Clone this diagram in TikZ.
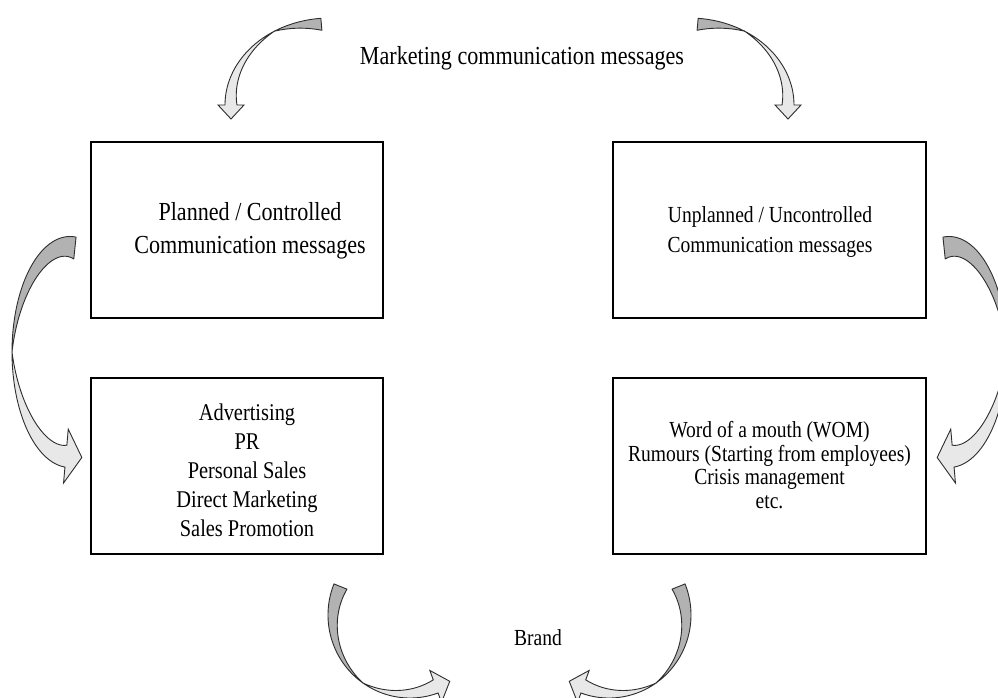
\documentclass[tikz,border=0pt]{standalone}
\usepackage{fontspec}
\setmainfont{Liberation Serif}[FakeStretch=0.85]
\usetikzlibrary{calc}
\definecolor{arrdarkc}{RGB}{178,178,178}
\definecolor{arrlightc}{RGB}{232,232,232}
\definecolor{edgec}{RGB}{45,45,45}
\newcommand\arrHX{16}
\newcommand\arrHL{16}
% #1 cx #2 cy #3 rx #4 ry #5 a0 (tail) #6 am (twist) #7 a1 (head) #8 width #9 turn angle
\newcommand\curvarr[9]{%
  \coordinate (Po) at ({#1+#3*cos(#7)},{#2+#4*sin(#7)});
  \coordinate (Pi) at ({#1+(#3-#8)*cos(#7)},{#2+(#4-#8)*sin(#7)});
  \coordinate (Pc) at ($(Po)!0.5!(Pi)$);
  \coordinate (Bo) at ($(Po)!-\arrHX pt!(Pi)$);
  \coordinate (Bi) at ($(Pi)!-\arrHX pt!(Po)$);
  \coordinate (Tp) at ($(Pc)!\arrHL pt!#9:(Po)$);
  \filldraw[arrdark] plot[domain=#5:#6,samples=60] ({#1+#3*cos(\x)},{#2+#4*sin(\x)})
     -- plot[domain=#6:#5,samples=60] ({#1+(#3-#8*(\x-(#6))/((#5)-(#6)))*cos(\x)},{#2+(#4-#8*(\x-(#6))/((#5)-(#6)))*sin(\x)}) -- cycle;
  \filldraw[arrlight] plot[domain=#6:#7,samples=60] ({#1+#3*cos(\x)},{#2+#4*sin(\x)})
     -- (Bo) -- (Tp) -- (Bi)
     -- plot[domain=#7:#6,samples=60] ({#1+(#3-#8*(\x-(#6))/((#7)-(#6)))*cos(\x)},{#2+(#4-#8*(\x-(#6))/((#7)-(#6)))*sin(\x)}) -- cycle;
}
\tikzset{
  box/.style={draw=black, line width=1.2pt, inner sep=0pt},
  txt/.style={inner sep=0pt, align=center, text=black},
  arrdark/.style={fill=arrdarkc, draw=edgec, line width=0.9pt, line join=round},
  arrlight/.style={fill=arrlightc, draw=edgec, line width=0.9pt, line join=miter},
}
\begin{document}
\begin{tikzpicture}[x=1pt,y=-1pt]
\useasboundingbox[fill=white] (0,0) rectangle (998,698);

% boxes
\node[box, minimum width=292pt, minimum height=176pt] (b1) at (237,230) {};
\node[box, minimum width=292pt, minimum height=176pt] (b2) at (237,466) {};
\node[box, minimum width=313pt, minimum height=176pt] (b3) at (769.5,230) {};
\node[box, minimum width=313pt, minimum height=176pt] (b4) at (769.5,466) {};

% texts
\node[txt, font=\fontsize{26}{31}\selectfont] (top) at (522,58) {Marketing communication messages};
\node[txt, font=\fontsize{26}{33}\selectfont] (t1) at (250,231) {Planned / Controlled\\Communication messages};
\node[txt, font=\fontsize{24}{29}\selectfont] (t2) at (247,470) {Advertising\\PR\\Personal Sales\\Direct Marketing\\Sales Promotion};
\node[txt, font=\fontsize{23}{30}\selectfont] (t3) at (770,232) {Unplanned / Uncontrolled\\Communication messages};
\node[txt, font=\fontsize{23}{23.5}\selectfont] (t4) at (769.5,465) {Word of a mouth (WOM)\\Rumours (Starting from employees)\\Crisis management\\etc.};
\node[txt, font=\fontsize{23}{28}\selectfont] (brand) at (538,638) {Brand};

% left / right arrows
\renewcommand\arrHX{16}\renewcommand\arrHL{16}
\curvarr{70}{352}{58}{115.5}{276}{180}{95}{22}{90}
\begin{scope}[xshift=1019pt,xscale=-1]
\curvarr{70}{352}{58}{115.5}{276}{180}{95}{22}{90}
\end{scope}

% top arrows
\renewcommand\arrHX{7}\renewcommand\arrHL{14}
\curvarr{330}{105}{105}{87}{265}{238}{180}{12}{90}
\begin{scope}[xshift=1019pt,xscale=-1]
\curvarr{330}{105}{105}{87}{265}{238}{180}{12}{90}
\end{scope}

% bottom arrows
\renewcommand\arrHX{10}\renewcommand\arrHL{15}
\curvarr{410}{615}{82}{83}{202}{125}{70}{14}{90}
\begin{scope}[xshift=1019pt,xscale=-1]
\curvarr{410}{615}{82}{83}{202}{125}{70}{14}{90}
\end{scope}
\end{tikzpicture}
\end{document}
